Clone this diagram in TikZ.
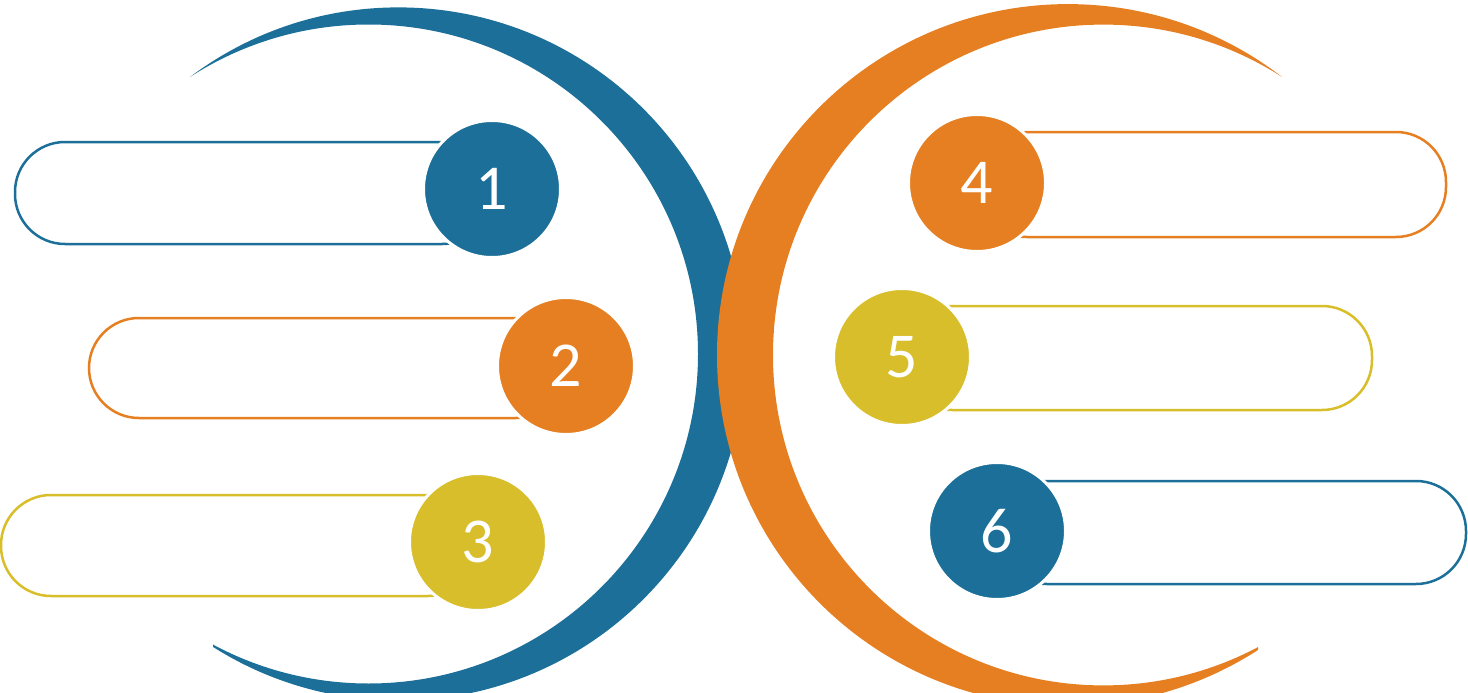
\documentclass[tikz,border=0pt]{standalone}
\usepackage{fontspec}
\setmainfont{Carlito}
\definecolor{cblue}{HTML}{1B6F98}
\definecolor{corange}{HTML}{E57F22}
\definecolor{cyellow}{HTML}{D8BE2A}
\begin{document}
\begin{tikzpicture}[x=1pt,y=-1pt,
  bar/.style={draw=#1,line width=2.5pt,fill=white,rounded corners=50pt},
  num/.style={circle,fill=#1,draw=white,line width=3pt,minimum size=137pt,inner sep=0pt,text=white,font=\fontsize{64}{64}\selectfont}]
\useasboundingbox (0,0) rectangle (1468,693);
% blue crescent
\begin{scope}
\clip (190,77) -- (190,-200) -- (1000,-200) -- (1000,900) -- (213,900) -- (213,632) -- cycle;
\fill[cblue,even odd rule] (398.4,354) circle (346.6) (368.5,354) circle (329.5);
\end{scope}
% orange crescent
\begin{scope}
\clip (1282,77) -- (1282,-200) -- (500,-200) -- (500,900) -- (1258,900) -- (1258,634) -- cycle;
\fill[corange,even odd rule] (1067.9,355) circle (350.9) (1103.4,355) circle (330.4);
\end{scope}
% boxes
\draw[bar=cblue] (15,142) rectangle (492,244);
\draw[bar=corange] (89,318) rectangle (566,418);
\draw[bar=cyellow] (1,495) rectangle (478,596);
\draw[bar=corange] (977,132) rectangle (1446,237);
\draw[bar=cyellow] (902,306) rectangle (1372,410);
\draw[bar=cblue] (997,481) rectangle (1466,584);
% circles
\node[num=cblue] (n1) at (492,189) {1};
\node[num=corange] (n2) at (566,366) {2};
\node[num=cyellow] (n3) at (478,542) {3};
\node[num=corange] (n4) at (977,183) {4};
\node[num=cyellow] (n5) at (902,357) {5};
\node[num=cblue] (n6) at (997,531) {6};
\end{tikzpicture}
\end{document}
